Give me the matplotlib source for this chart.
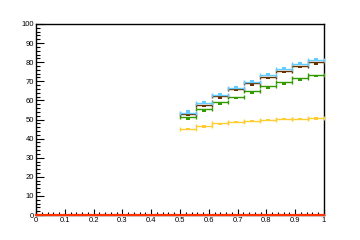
import numpy as np
import matplotlib
matplotlib.use('Agg')
import matplotlib.pyplot as plt
from matplotlib.ticker import MultipleLocator

# bins: 9 bins between 0.5 and 1.0
edges = np.linspace(0.5, 1.0, 10)
centers = 0.5*(edges[1:] + edges[:-1])
half = 0.5*(edges[1] - edges[0])

cyan_vals   = [53.6, 58.5, 62.7, 66.7, 69.5, 73.5, 76.4, 78.9, 81.0]
brown_vals  = [52.7, 57.4, 62.1, 65.8, 68.9, 72.1, 75.2, 78.0, 79.9]
green_vals  = [51.3, 55.3, 59.0, 61.9, 64.7, 67.4, 69.5, 71.6, 73.3]
orange_vals = [44.9, 46.4, 48.2, 48.7, 49.2, 49.7, 50.1, 50.1, 50.6]

# small error boxes drawn at bin centre (centre value)
cyan_box   = [54.2, 59.0, 63.2, 67.2, 70.0, 74.0, 77.0, 79.5, 81.5]
brown_box  = [52.2, 56.9, 61.6, 65.3, 68.4, 71.6, 74.7, 77.5, 79.4]
green_box  = [50.6, 54.6, 58.3, 61.2, 64.0, 66.7, 68.8, 70.9, 72.6]
orange_box = [44.9, 46.4, 47.6, 48.7, 49.2, 49.7, 50.1, 50.1, 50.6]
box_err = 0.6

series = [
    (orange_vals, orange_box, '#ffcc33'),
    (green_vals, green_box, '#339900'),
    (brown_vals, brown_box, '#663300'),
    (cyan_vals, cyan_box, '#66ccff'),
]

plt.rcParams['font.family'] = ['Liberation Sans', 'DejaVu Sans']

fig = plt.figure(figsize=(3.6, 2.4), dpi=100)
ax = fig.add_axes([0.1, 0.104, 0.8, 0.796])

for vals, box, col in series:
    ax.bar(centers, 2*box_err, bottom=np.array(box) - box_err, width=0.016,
           color=col, linewidth=0, zorder=2)
    ax.errorbar(centers, vals, xerr=half, fmt='none', ecolor=col,
                elinewidth=1.0, capsize=1.6, capthick=1.0, zorder=3)

ax.plot([0, 1], [0, 0], color='#ff3300', lw=1.6, zorder=4, clip_on=False)

ax.set_xlim(0, 1)
ax.set_ylim(0, 100)
ax.xaxis.set_major_locator(MultipleLocator(0.1))
ax.xaxis.set_minor_locator(MultipleLocator(0.02))
ax.yaxis.set_major_locator(MultipleLocator(10))
ax.yaxis.set_minor_locator(MultipleLocator(2))
ax.xaxis.set_major_formatter(plt.FuncFormatter(lambda v, p: '%g' % round(v, 2)))
ax.yaxis.set_major_formatter(plt.FuncFormatter(lambda v, p: '%g' % v))

ax.tick_params(axis='both', which='both', direction='in', labelsize=5.5,
               width=0.8, color='black')
ax.tick_params(axis='x', which='major', length=4.5, pad=1.5)
ax.tick_params(axis='x', which='minor', length=2.2)
ax.tick_params(axis='y', which='major', length=6, pad=1.5)
ax.tick_params(axis='y', which='minor', length=3)
for s in ax.spines.values():
    s.set_linewidth(1.0)

fig.savefig('out.png', dpi=100)
